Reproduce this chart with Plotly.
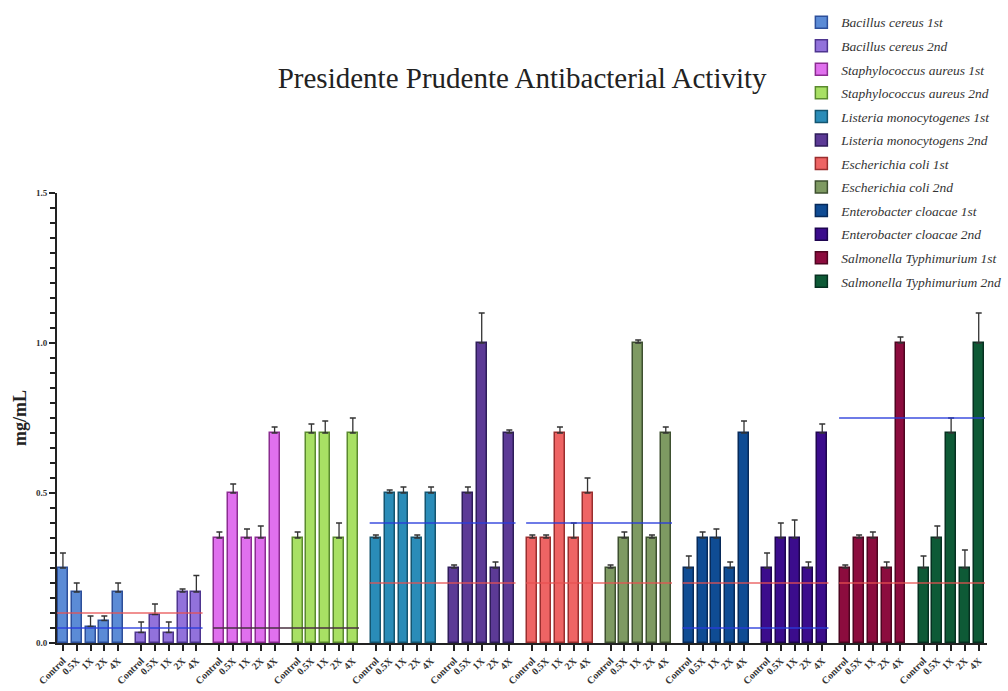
import plotly.graph_objects as go

# Bacterial strains (one group of five bars each)
species = [
    "Bacillus cereus 1st", "Bacillus cereus 2nd",
    "Staphylococcus aureus 1st", "Staphylococcus aureus 2nd",
    "Listeria monocytogenes 1st", "Listeria monocytogens 2nd",
    "Escherichia coli 1st", "Escherichia coli 2nd",
    "Enterobacter cloacae 1st", "Enterobacter cloacae 2nd",
    "Salmonella Typhimurium 1st", "Salmonella Typhimurium 2nd",
]

# Treatment labels within each group
treatments = ["Control", "0.5X", "1X", "2X", "4X"]

# Mean values (mg/mL) per strain, in treatment order
bacillus_1st = [0.25, 0.17, 0.055, 0.075, 0.17]
bacillus_2nd = [0.035, 0.095, 0.035, 0.17, 0.17]
staph_1st = [0.35, 0.50, 0.35, 0.35, 0.70]
staph_2nd = [0.35, 0.70, 0.70, 0.35, 0.70]
listeria_1st = [0.35, 0.50, 0.50, 0.35, 0.50]
listeria_2nd = [0.25, 0.50, 1.00, 0.25, 0.70]
ecoli_1st = [0.35, 0.35, 0.70, 0.35, 0.50]
ecoli_2nd = [0.25, 0.35, 1.00, 0.35, 0.70]
entero_1st = [0.25, 0.35, 0.35, 0.25, 0.70]
entero_2nd = [0.25, 0.35, 0.35, 0.25, 0.70]
salmonella_1st = [0.25, 0.35, 0.35, 0.25, 1.00]
salmonella_2nd = [0.25, 0.35, 0.70, 0.25, 1.00]

# Upper error (SD) per bar
bacillus_1st_sd = [0.05, 0.03, 0.035, 0.015, 0.03]
bacillus_2nd_sd = [0.035, 0.035, 0.035, 0.01, 0.055]
staph_1st_sd = [0.02, 0.03, 0.03, 0.04, 0.02]
staph_2nd_sd = [0.02, 0.03, 0.04, 0.05, 0.05]
listeria_1st_sd = [0.01, 0.01, 0.02, 0.01, 0.02]
listeria_2nd_sd = [0.01, 0.02, 0.10, 0.02, 0.01]
ecoli_1st_sd = [0.01, 0.01, 0.02, 0.05, 0.05]
ecoli_2nd_sd = [0.01, 0.02, 0.01, 0.01, 0.02]
entero_1st_sd = [0.04, 0.02, 0.03, 0.02, 0.04]
entero_2nd_sd = [0.05, 0.05, 0.06, 0.02, 0.03]
salmonella_1st_sd = [0.01, 0.01, 0.02, 0.02, 0.02]
salmonella_2nd_sd = [0.04, 0.04, 0.05, 0.06, 0.10]

values = [bacillus_1st, bacillus_2nd, staph_1st, staph_2nd,
          listeria_1st, listeria_2nd, ecoli_1st, ecoli_2nd,
          entero_1st, entero_2nd, salmonella_1st, salmonella_2nd]
errors = [bacillus_1st_sd, bacillus_2nd_sd, staph_1st_sd, staph_2nd_sd,
          listeria_1st_sd, listeria_2nd_sd, ecoli_1st_sd, ecoli_2nd_sd,
          entero_1st_sd, entero_2nd_sd, salmonella_1st_sd, salmonella_2nd_sd]

# Reference MIC lines: (first group, last group, value)
red_lines = [(0, 1, 0.10), (4, 5, 0.20), (6, 7, 0.20), (8, 9, 0.20), (10, 11, 0.20)]
blue_lines = [(0, 1, 0.05), (4, 5, 0.40), (6, 7, 0.40), (8, 9, 0.05), (10, 11, 0.75)]
dark_lines = [(2, 3, 0.05)]

fills = ["#5b8bd6", "#9272db", "#e070ee", "#a8e064", "#2a8cb8", "#5c3a96",
         "#ee6464", "#7e9a62", "#0f4c94", "#3b0c8c", "#8c0c3e", "#0e5a36"]
edges = ["#2d4f9a", "#4e3590", "#8b2c91", "#5a8a2e", "#145570", "#2e1d5a",
         "#9a2e2e", "#3e5030", "#072a5a", "#1e0550", "#4e0520", "#063020"]

GAP = 5.67  # spacing between group starts, in bar slots
SERIF = "Liberation Serif, Times New Roman, serif"

fig = go.Figure()
tickvals, ticktext = [], []
for g, (name, vals, err) in enumerate(zip(species, values, errors)):
    xs = [g * GAP + i for i in range(len(vals))]
    tickvals += xs
    ticktext += treatments
    fig.add_trace(go.Bar(
        x=xs, y=vals, name=name, legendgroup=name,
        width=0.72,
        marker=dict(color=fills[g], line=dict(color=edges[g], width=1.5)),
        error_y=dict(type="data", array=err, arrayminus=[0] * len(err),
                     symmetric=False, color="#333333", thickness=1.3, width=3),
    ))

def seg(a, b, v, color):
    x0 = a * GAP - 0.45
    x1 = b * GAP + 4 + 0.45
    fig.add_shape(type="line", xref="x", yref="y", x0=x0, x1=x1, y0=v, y1=v,
                  line=dict(color=color, width=1.5), layer="above")

for a, b, v in red_lines:
    seg(a, b, v, "rgba(230,80,80,0.85)")
for a, b, v in blue_lines:
    seg(a, b, v, "rgba(40,60,220,0.9)")
for a, b, v in dark_lines:
    seg(a, b, v, "#4a3040")

fig.update_layout(
    width=1008, height=691,
    margin=dict(l=57, r=21, t=193, b=48, autoexpand=False),
    paper_bgcolor="white", plot_bgcolor="white",
    font=dict(family=SERIF, color="#222222"),
    title=dict(text="Presidente Prudente Antibacterial Activity",
               xref="container", yref="container", x=0.518, y=1 - 78 / 691,
               xanchor="center", yanchor="middle",
               font=dict(family=SERIF, size=29, color="#222222")),
    showlegend=True,
    legend=dict(xref="container", yref="container", x=0.795, y=0.99,
                xanchor="left", yanchor="top", traceorder="grouped",
                tracegroupgap=3,
                font=dict(family=SERIF, size=13.5, color="#333333", style="italic"),
                bgcolor="rgba(0,0,0,0)"),
    bargap=0,
)

fig.update_xaxes(
    automargin=False,
    range=[-0.43, 66.97], tickmode="array", tickvals=tickvals, ticktext=ticktext,
    tickangle=-45, ticks="outside", ticklen=6, tickwidth=2, tickcolor="#222222",
    showline=True, linewidth=2, linecolor="#222222", showgrid=False, zeroline=False,
    tickfont=dict(family=SERIF, size=10, color="#333333", weight="bold"),
)
fig.update_yaxes(
    automargin=False,
    range=[0, 1.5], tickmode="array", tickvals=[0, 0.5, 1.0, 1.5],
    ticktext=["0.0", "0.5", "1.0", "1.5"],
    ticks="outside", ticklen=6, tickwidth=2, tickcolor="#222222",
    minor=dict(dtick=0.05, ticks="outside", ticklen=5, tickwidth=1.5, tickcolor="#222222"),
    showline=True, linewidth=2, linecolor="#222222", showgrid=False, zeroline=False,
    tickfont=dict(family=SERIF, size=9, color="#333333", weight="bold"),
    title=dict(text="mg/mL", standoff=5,
               font=dict(family=SERIF, size=18, color="#222222", weight="bold")),
)

fig.write_html("out.html")
